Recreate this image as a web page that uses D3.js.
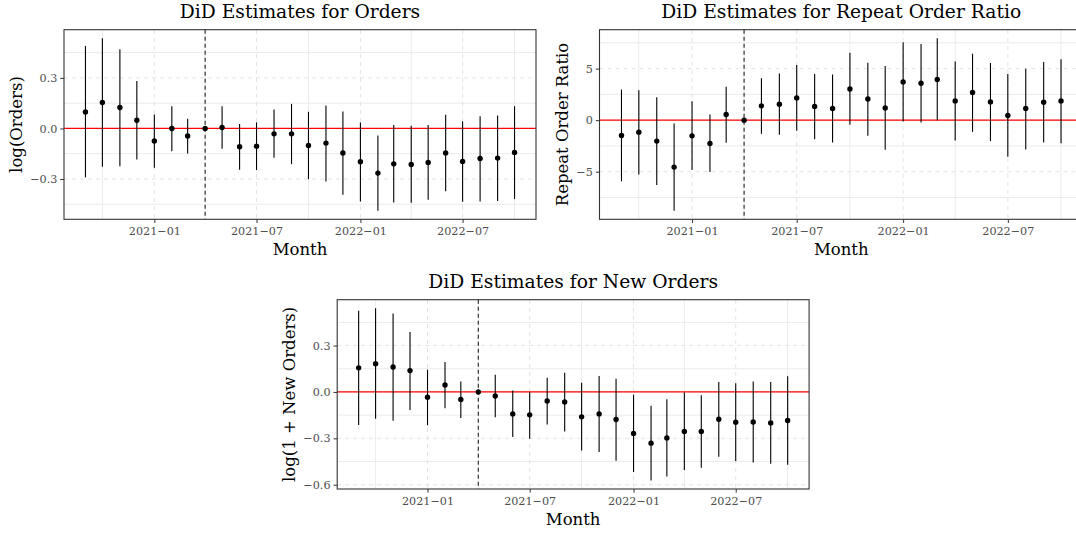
<!DOCTYPE html>
<html>
<head>
<meta charset="utf-8">
<script src="https://cdn.jsdelivr.net/npm/d3@7"></script>
<style>
  body { margin: 0; background: #fff; }
  text { font-family: "DejaVu Serif", serif; }
</style>
</head>
<body>
<div class="chart"></div>
<script>
"use strict"

// months of the event study (2021-04 is the reference month)
const months = ["2020-09","2020-10","2020-11","2020-12","2021-01","2021-02","2021-03","2021-04",
  "2021-05","2021-06","2021-07","2021-08","2021-09","2021-10","2021-11","2021-12",
  "2022-01","2022-02","2022-03","2022-04","2022-05","2022-06","2022-07","2022-08","2022-09","2022-10"];
const treatMonth = "2021-04";
const xTicks = ["2021-01","2021-07","2022-01","2022-07"];
const xMinor = ["2020-10","2021-04","2021-10","2022-04","2022-10"];

// log(Orders)
const ordersEst = [0.098,0.154,0.124,0.049,-0.074,0.000,-0.045,0,0.006,-0.109,-0.105,-0.032,-0.032,
  -0.101,-0.087,-0.146,-0.198,-0.265,-0.210,-0.214,-0.202,-0.145,-0.196,-0.178,-0.176,-0.142];
const ordersLo = [-0.290,-0.228,-0.224,-0.184,-0.233,-0.135,-0.148,0,-0.121,-0.245,-0.247,-0.174,-0.212,
  -0.301,-0.315,-0.393,-0.433,-0.488,-0.439,-0.441,-0.423,-0.372,-0.435,-0.433,-0.431,-0.419];
const ordersHi = [0.490,0.535,0.470,0.282,0.083,0.132,0.057,0,0.132,0.026,0.036,0.113,0.146,
  0.099,0.136,0.101,0.036,-0.042,0.020,0.016,0.020,0.081,0.043,0.073,0.077,0.132];

// Repeat Order Ratio
const repeatEst = [-1.48,-1.16,-2.03,-4.55,-1.52,-2.26,0.55,0,1.39,1.55,2.16,1.32,1.13,
  3.03,2.06,1.19,3.71,3.58,3.94,1.87,2.68,1.77,0.45,1.13,1.74,1.87];
const repeatLo = [-5.93,-5.26,-6.29,-8.78,-4.84,-5.03,-2.19,0,-1.32,-1.42,-1.03,-1.84,-2.16,
  -0.45,-1.52,-2.87,-0.13,-0.23,0.00,-1.97,-1.13,-2.03,-3.55,-2.84,-2.16,-2.23];
const repeatHi = [2.97,2.90,2.23,-0.32,1.84,0.55,3.23,0,4.07,4.52,5.35,4.48,4.42,
  6.55,5.58,5.26,7.55,7.39,7.94,5.68,6.45,5.55,4.48,5.00,5.64,5.90];

// log(1 + New Orders)
const newEst = [0.156,0.183,0.161,0.138,-0.034,0.045,-0.049,0,-0.026,-0.142,-0.148,-0.058,-0.065,
  -0.161,-0.142,-0.178,-0.269,-0.331,-0.297,-0.256,-0.256,-0.177,-0.196,-0.194,-0.200,-0.185];
const newLo = [-0.213,-0.173,-0.187,-0.116,-0.215,-0.105,-0.168,0,-0.163,-0.292,-0.303,-0.211,-0.256,
  -0.378,-0.389,-0.445,-0.518,-0.572,-0.546,-0.504,-0.491,-0.419,-0.446,-0.457,-0.465,-0.471];
const newHi = [0.525,0.541,0.507,0.387,0.144,0.194,0.067,0,0.112,0.009,0.000,0.092,0.125,
  0.060,0.103,0.086,-0.017,-0.090,-0.047,-0.003,-0.021,0.064,0.056,0.068,0.064,0.102];

const parse = d3.timeParse("%Y-%m");
const tickFmt = d3.timeFormat("%Y\u2212%m");

let svg = d3.select(".chart")
  .append("svg")
  .attr("width", 1076)
  .attr("height", 533);

function drawPanel(p) {
  let data = months.map(function(m, i) {
    return { date: parse(m), est: p.est[i], lo: p.lo[i], hi: p.hi[i] };
  });

  // ggplot-like 5% expansion
  let dx = d3.extent(data, d => d.date);
  let padX = (dx[1] - dx[0]) * 0.05;
  let x = d3.scaleTime()
    .domain([new Date(+dx[0] - padX), new Date(+dx[1] + padX)])
    .range([p.left, p.right]);

  let ymin = d3.min(data, d => d.lo), ymax = d3.max(data, d => d.hi);
  let padY = (ymax - ymin) * 0.05;
  let y = d3.scaleLinear()
    .domain([ymin - padY, ymax + padY])
    .range([p.bottom, p.top]);

  let g = svg.append("g");

  // grid: minor solid, major dashed
  g.selectAll(".ymin").data(p.yMinor).enter().append("line")
    .attr("x1", p.left).attr("x2", p.right)
    .attr("y1", d => y(d)).attr("y2", d => y(d))
    .attr("stroke", "#ebebeb").attr("stroke-width", 1);
  g.selectAll(".xmin").data(xMinor).enter().append("line")
    .attr("x1", d => x(parse(d))).attr("x2", d => x(parse(d)))
    .attr("y1", p.top).attr("y2", p.bottom)
    .attr("stroke", "#ebebeb").attr("stroke-width", 1);
  g.selectAll(".ymaj").data(p.yTicks).enter().append("line")
    .attr("x1", p.left).attr("x2", p.right)
    .attr("y1", d => y(d)).attr("y2", d => y(d))
    .attr("stroke", "#e3e3e3").attr("stroke-width", 1)
    .attr("stroke-dasharray", "4,4");
  g.selectAll(".xmaj").data(xTicks).enter().append("line")
    .attr("x1", d => x(parse(d))).attr("x2", d => x(parse(d)))
    .attr("y1", p.top).attr("y2", p.bottom)
    .attr("stroke", "#e3e3e3").attr("stroke-width", 1)
    .attr("stroke-dasharray", "4,4");

  // reference lines
  g.append("line")
    .attr("x1", p.left).attr("x2", p.right)
    .attr("y1", y(0)).attr("y2", y(0))
    .attr("stroke", "#ff0000").attr("stroke-width", 1.3);
  g.append("line")
    .attr("x1", x(parse(treatMonth))).attr("x2", x(parse(treatMonth)))
    .attr("y1", p.top).attr("y2", p.bottom)
    .attr("stroke", "#333").attr("stroke-width", 1.2)
    .attr("stroke-dasharray", "4,3");

  // error bars + points
  g.selectAll(".bar").data(data).enter().append("line")
    .attr("x1", d => x(d.date)).attr("x2", d => x(d.date))
    .attr("y1", d => y(d.lo)).attr("y2", d => y(d.hi))
    .attr("stroke", "#000").attr("stroke-width", 1.1);
  g.selectAll(".pt").data(data).enter().append("circle")
    .attr("cx", d => x(d.date)).attr("cy", d => y(d.est))
    .attr("r", 2.7).attr("fill", "#000");

  // panel border
  g.append("rect")
    .attr("x", p.left).attr("y", p.top)
    .attr("width", p.right - p.left).attr("height", p.bottom - p.top)
    .attr("fill", "none").attr("stroke", "#333").attr("stroke-width", 1.1);

  // axes
  let ax = g.append("g")
    .attr("transform", "translate(0," + p.bottom + ")")
    .call(d3.axisBottom(x).tickValues(xTicks.map(parse)).tickFormat(tickFmt)
      .tickSize(3.7).tickPadding(4));
  let ay = g.append("g")
    .attr("transform", "translate(" + p.left + ",0)")
    .call(d3.axisLeft(y).tickValues(p.yTicks).tickFormat(p.fmt)
      .tickSize(3.7).tickPadding(3));
  [ax, ay].forEach(function(a) {
    a.select(".domain").remove();
    a.selectAll("line").attr("stroke", "#333");
    a.selectAll("text").attr("fill", "#4d4d4d")
      .style("font-size", "11.2px").style("font-family", "DejaVu Serif");
  });

  // titles
  g.append("text")
    .attr("x", (p.left + p.right) / 2).attr("y", p.top - 11.3)
    .attr("text-anchor", "middle")
    .style("font-size", "18.7px")
    .text(p.title);
  g.append("text")
    .attr("x", (p.left + p.right) / 2).attr("y", p.bottom + 35.8)
    .attr("text-anchor", "middle")
    .style("font-size", "16.5px")
    .text("Month");
  g.append("text")
    .attr("transform", "translate(" + p.ytitleX + "," + (p.top + p.bottom) / 2 + ") rotate(-90)")
    .attr("text-anchor", "middle")
    .style("font-size", "16.5px")
    .text(p.ytitle);
}

drawPanel({
  title: "DiD Estimates for Orders", ytitle: "log(Orders)",
  est: ordersEst, lo: ordersLo, hi: ordersHi,
  left: 64, right: 536, top: 29.7, bottom: 219.3, ytitleX: 21.7,
  yTicks: [-0.3, 0, 0.3], yMinor: [-0.45, -0.15, 0.15, 0.45], fmt: d3.format(".1f")
});

drawPanel({
  title: "DiD Estimates for Repeat Order Ratio", ytitle: "Repeat Order Ratio",
  est: repeatEst, lo: repeatLo, hi: repeatHi,
  left: 599.5, right: 1083, top: 29.7, bottom: 219.3, ytitleX: 567.9,
  yTicks: [-5, 0, 5], yMinor: [-7.5, -2.5, 2.5, 7.5], fmt: d3.format("d")
});

drawPanel({
  title: "DiD Estimates for New Orders", ytitle: "log(1 + New Orders)",
  est: newEst, lo: newLo, hi: newHi,
  left: 337.2, right: 809.1, top: 299.7, bottom: 489, ytitleX: 294.9,
  yTicks: [-0.6, -0.3, 0, 0.3], yMinor: [-0.45, -0.15, 0.15, 0.45], fmt: d3.format(".1f")
});
</script>
</body>
</html>
